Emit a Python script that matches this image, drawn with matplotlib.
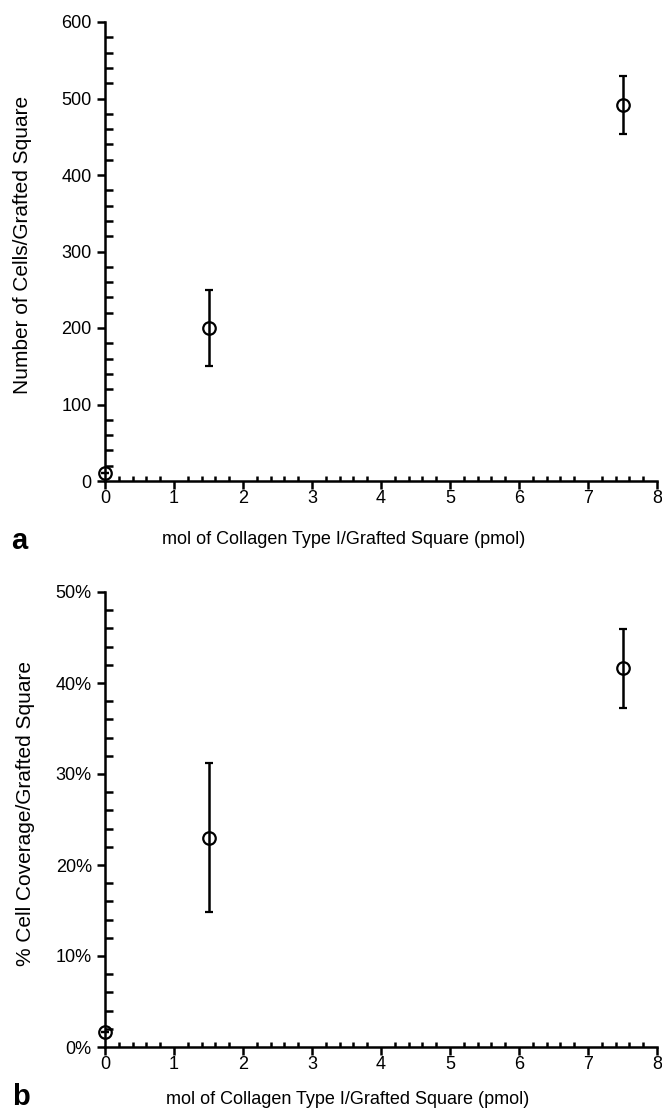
"""
Cell adhesion vs grafted collagen type I (panels a & b)
"""
import matplotlib
matplotlib.use('Agg')
import matplotlib.pyplot as plt
from matplotlib.ticker import MultipleLocator, PercentFormatter

plt.rcParams['font.family'] = ['Liberation Sans', 'DejaVu Sans']

# data
collagen_pmol = [0, 1.5, 7.5]
cells_per_square = [11, 200, 492]
cells_err = [0, 50, 38]
coverage_pct = [1.6, 23.0, 41.6]
coverage_err = [0, 8.2, 4.3]

x_label = 'mol of Collagen Type I/Grafted Square (pmol)'

W, H = 662, 1112
fig = plt.figure(figsize=(W / 100, H / 100), dpi=100)

# axes placed in pixel terms (left, bottom, width, height)
ax_a = fig.add_axes([105 / W, 1 - 481 / H, 552 / W, 459 / H])
ax_b = fig.add_axes([105 / W, 1 - 1047 / H, 552 / W, 455 / H])

LW = 1.8
TICK_FS = 13
LABEL_FS = 13
YLABEL_FS = 15


def style_axis(ax):
    for side in ['top', 'right']:
        ax.spines[side].set_visible(False)
    for side in ['left', 'bottom']:
        ax.spines[side].set_linewidth(LW)
    ax.set_xlim(0, 8)
    ax.xaxis.set_major_locator(MultipleLocator(1))
    ax.xaxis.set_minor_locator(MultipleLocator(0.2))
    # major ticks point out, minor ticks point in
    ax.tick_params(axis='both', which='major', direction='out', length=5.5,
                   width=LW, labelsize=TICK_FS)
    ax.tick_params(axis='y', which='major', pad=4)
    ax.tick_params(axis='x', which='major', pad=1)
    ax.tick_params(axis='y', which='minor', direction='in', length=5.5, width=LW)
    ax.tick_params(axis='x', which='minor', direction='in', length=3.8, width=LW)


def draw_points(ax, y, yerr):
    ax.errorbar(collagen_pmol, y, yerr=yerr, fmt='o', color='black',
                mfc='none', mec='black', ms=9, mew=1.6, elinewidth=1.8,
                capsize=3, capthick=1.8, clip_on=False, zorder=5)


# panel a
style_axis(ax_a)
ax_a.set_ylim(0, 600)
ax_a.yaxis.set_major_locator(MultipleLocator(100))
ax_a.yaxis.set_minor_locator(MultipleLocator(20))
draw_points(ax_a, cells_per_square, cells_err)
ax_a.set_ylabel('Number of Cells/Grafted Square', fontsize=YLABEL_FS)
ax_a.yaxis.set_label_coords(-0.132, 0.514)
ax_a.set_xlabel(x_label, fontsize=LABEL_FS)
ax_a.xaxis.set_label_coords(0.433, -0.109)

# panel b
style_axis(ax_b)
ax_b.set_ylim(0, 50)
ax_b.yaxis.set_major_locator(MultipleLocator(10))
ax_b.yaxis.set_minor_locator(MultipleLocator(2))
ax_b.yaxis.set_major_formatter(PercentFormatter(xmax=100, decimals=0))
draw_points(ax_b, coverage_pct, coverage_err)
ax_b.set_ylabel('% Cell Coverage/Grafted Square', fontsize=YLABEL_FS)
ax_b.yaxis.set_label_coords(-0.127, 0.514)
ax_b.set_xlabel(x_label, fontsize=LABEL_FS)
ax_b.xaxis.set_label_coords(0.44, -0.097)

# panel letters
fig.text(19 / W, 1 - 541 / H, 'a', fontsize=21, fontweight='bold',
         ha='center', va='center')
fig.text(21 / W, 1 - 1097 / H, 'b', fontsize=21, fontweight='bold',
         ha='center', va='center')

plt.savefig('out.png', dpi=100)
plt.close()
